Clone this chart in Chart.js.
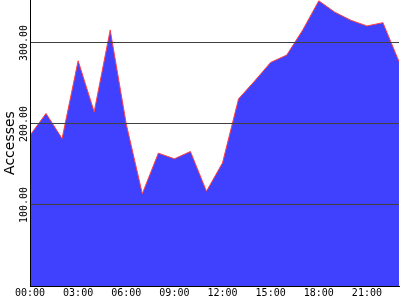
<!DOCTYPE html>
<html>
<head>
<meta charset="utf-8">
<script src="https://cdn.jsdelivr.net/npm/chart.js@4/dist/chart.umd.min.js"></script>
<style>
    body { margin: 0; background: #ffffff; }
    #wrap { width: 400px; height: 300px; }
</style>
</head>
<body>
<div id="wrap"><canvas id="areaChart" width="400" height="300"></canvas></div>
<script>
var hourLabels = ['00:00', '01:00', '02:00', '03:00', '04:00', '05:00', '06:00', '07:00',
                  '08:00', '09:00', '10:00', '11:00', '12:00', '13:00', '14:00', '15:00',
                  '16:00', '17:00', '18:00', '19:00', '20:00', '21:00', '22:00', '23:00'];
var accesses = [186, 213, 182, 278, 215, 316, 200, 114,
                164, 157, 166, 117, 152, 231, 253, 276,
                285, 316, 352, 338, 328, 321, 325, 277];
var yTickValues = [100, 200, 300];
var yMax = 353;

(function () {
    'use strict';

    var ctx = document.getElementById('areaChart').getContext('2d');
    var monoFont = { family: "'DejaVu Sans Mono', monospace", size: 10 };

    new Chart(ctx, {
        type: 'line',
        data: {
            labels: hourLabels,
            datasets: [{
                label: 'Accesses',
                data: accesses,
                borderColor: '#ff4040',
                borderWidth: 1,
                backgroundColor: '#4040ff',
                fill: 'origin',
                pointRadius: 0,
                tension: 0
            }]
        },
        options: {
            responsive: false,
            animation: false,
            devicePixelRatio: 1,
            layout: { padding: 0 },
            plugins: {
                legend: { display: false },
                tooltip: { enabled: false }
            },
            scales: {
                x: {
                    type: 'category',
                    afterFit: function (scale) {
                        scale.height = 14;
                    },
                    grid: { display: false, drawTicks: false },
                    border: { display: true, color: '#000000', width: 1, z: 1 },
                    ticks: {
                        autoSkip: false,
                        minRotation: 0,
                        maxRotation: 0,
                        padding: 1,
                        color: '#000000',
                        font: monoFont,
                        callback: function (value, index) {
                            return index % 3 === 0 ? this.getLabelForValue(value) : '';
                        }
                    }
                },
                y: {
                    min: 0,
                    max: yMax,
                    afterBuildTicks: function (scale) {
                        scale.ticks = yTickValues.map(function (v) { return { value: v }; });
                    },
                    afterFit: function (scale) {
                        scale.width = 30;
                    },
                    grid: { color: '#404040', lineWidth: 1, drawTicks: false, z: 1 },
                    border: { display: true, color: '#000000', width: 1, z: 1 },
                    ticks: {
                        minRotation: 90,
                        maxRotation: 90,
                        crossAlign: 'center',
                        padding: -12.5,
                        color: '#000000',
                        font: monoFont,
                        callback: function (value) {
                            return value.toFixed(2);
                        }
                    },
                    title: {
                        display: true,
                        text: 'Accesses',
                        color: '#000000',
                        padding: { top: 1.5, bottom: 0 },
                        font: { family: "'DejaVu Sans', sans-serif", size: 14 }
                    }
                }
            }
        }
    });
})();
</script>
</body>
</html>
